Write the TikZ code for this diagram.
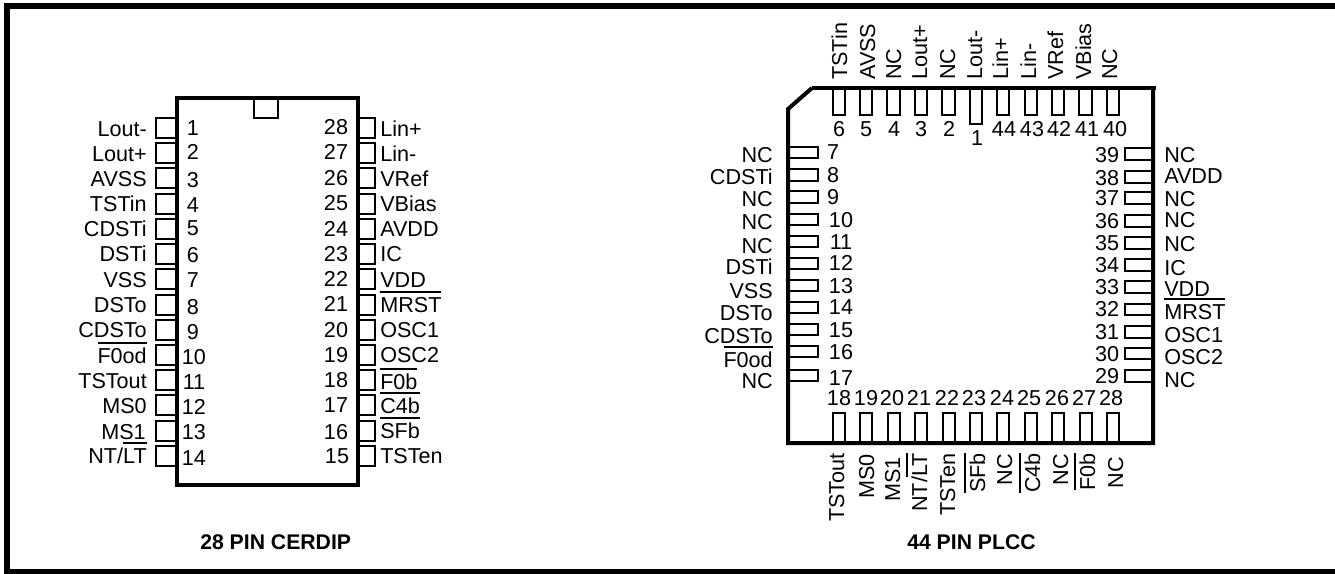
\documentclass[tikz,border=0pt]{standalone}
\usepackage{fontspec}
\setmainfont{Liberation Sans}
\usepackage{tikz}
\usetikzlibrary{positioning, calc}
\newcommand{\ovbar}[1]{\setbox0\hbox{#1}\rlap{\rule[14.6pt]{\wd0}{1.1pt}}\box0}

\begin{document}
\begin{tikzpicture}[x=.75pt,y=-.75pt]
	\tikzstyle{lead}=[rectangle,draw=black!100,line width=1.4pt,inner sep=0pt]
	\tikzstyle{dl-lead}=[lead,minimum width=15.75pt,minimum height=15pt]
	\tikzstyle{dr-lead}=[lead,minimum width=12.75pt,minimum height=15pt]
	\tikzstyle{pv-lead}=[lead,minimum width=9.5pt,minimum height=20.25pt]
	\tikzstyle{ps-lead}=[lead,minimum width=22pt,minimum height=8.5pt]
	\tikzstyle{num}=[inner sep=0pt]
	\tikzstyle{txt-r}=[inner sep=0pt,anchor=base east]
	\tikzstyle{txt-l}=[inner sep=0pt,anchor=base west]
	\tikzstyle{txt-up}=[inner sep=0pt,anchor=base west,rotate=90]
	\tikzstyle{txt-dn}=[inner sep=0pt,anchor=base east,rotate=90]
	\tikzstyle{title}=[inner sep=0pt,anchor=base west,font=\fontsize{15.9}{18}\selectfont\bfseries]
	\tikzstyle{body}=[draw=black!100,line width=3pt]

	\useasboundingbox (0,0) rectangle (1335,574);
	\fontsize{16.2}{18}\selectfont

	% frame, open on the right
	\draw[line width=4.5pt,draw=black!100] (1335,6) -- (7,6) -- (7,571.5) -- (1335,571.5);

	% 28 pin, left row
	\node[dl-lead] (dlead1) at (166.5,128) {};	\node[num] (dnum1) at (193,128) {1};	\node[txt-r] (dtxt1) at (147,137) {Lout-};
	\node[dl-lead] (dlead2) at (166.5,153) {};	\node[num] (dnum2) at (193,152) {2};	\node[txt-r] (dtxt2) at (147,162) {Lout+};
	\node[dl-lead] (dlead3) at (166.5,178) {};	\node[num] (dnum3) at (193,180) {3};	\node[txt-r] (dtxt3) at (147,187) {AVSS};
	\node[dl-lead] (dlead4) at (166.5,204) {};	\node[num] (dnum4) at (193,205) {4};	\node[txt-r] (dtxt4) at (147,212) {TSTin};
	\node[dl-lead] (dlead5) at (166.5,229) {};	\node[num] (dnum5) at (193,228) {5};	\node[txt-r] (dtxt5) at (147,237) {CDSTi};
	\node[dl-lead] (dlead6) at (166.5,254) {};	\node[num] (dnum6) at (193,255) {6};	\node[txt-r] (dtxt6) at (147,262) {DSTi};
	\node[dl-lead] (dlead7) at (166.5,279) {};	\node[num] (dnum7) at (193,280) {7};	\node[txt-r] (dtxt7) at (147,287) {VSS};
	\node[dl-lead] (dlead8) at (166.5,305) {};	\node[num] (dnum8) at (193,307) {8};	\node[txt-r] (dtxt8) at (147,312) {DSTo};
	\node[dl-lead] (dlead9) at (166.5,330) {};	\node[num] (dnum9) at (193,332) {9};	\node[txt-r] (dtxt9) at (147,337) {CDSTo};
	\node[dl-lead] (dlead10) at (166.5,355) {};	\node[num] (dnum10) at (194,357) {10};	\node[txt-r] (dtxt10) at (147,363) {\ovbar{F0od}};
	\node[dl-lead] (dlead11) at (166.5,380) {};	\node[num] (dnum11) at (194,382) {11};	\node[txt-r] (dtxt11) at (147,388) {TSTout};
	\node[dl-lead] (dlead12) at (166.5,405) {};	\node[num] (dnum12) at (194,407) {12};	\node[txt-r] (dtxt12) at (147,413) {MS0};
	\node[dl-lead] (dlead13) at (166.5,431) {};	\node[num] (dnum13) at (194,432) {13};	\node[txt-r] (dtxt13) at (146,439) {MS1};
	\node[dl-lead] (dlead14) at (166.5,456) {};	\node[num] (dnum14) at (194,458) {14};	\node[txt-r] (dtxt14) at (147,463) {NT/\ovbar{LT}};

	% 28 pin, right row
	\node[dr-lead] (dlead28) at (366.5,128) {};	\node[num] (dnum28) at (336,127) {28};	\node[txt-l] (dtxt28) at (380,137) {Lin+};
	\node[dr-lead] (dlead27) at (366.5,153) {};	\node[num] (dnum27) at (336,152) {27};	\node[txt-l] (dtxt27) at (380,162) {Lin-};
	\node[dr-lead] (dlead26) at (366.5,178) {};	\node[num] (dnum26) at (336,178) {26};	\node[txt-l] (dtxt26) at (380,187) {VRef};
	\node[dr-lead] (dlead25) at (366.5,204) {};	\node[num] (dnum25) at (336,203) {25};	\node[txt-l] (dtxt25) at (380,212) {VBias};
	\node[dr-lead] (dlead24) at (366.5,229) {};	\node[num] (dnum24) at (336,229) {24};	\node[txt-l] (dtxt24) at (380,237) {AVDD};
	\node[dr-lead] (dlead23) at (366.5,254) {};	\node[num] (dnum23) at (336,254) {23};	\node[txt-l] (dtxt23) at (380,262) {IC};
	\node[dr-lead] (dlead22) at (366.5,279) {};	\node[num] (dnum22) at (336,279) {22};	\node[txt-l] (dtxt22) at (380,287) {VDD};
	\node[dr-lead] (dlead21) at (366.5,305) {};	\node[num] (dnum21) at (336,304) {21};	\node[txt-l] (dtxt21) at (380,312) {\ovbar{MRST}};
	\node[dr-lead] (dlead20) at (366.5,330) {};	\node[num] (dnum20) at (336,330) {20};	\node[txt-l] (dtxt20) at (380,337) {OSC1};
	\node[dr-lead] (dlead19) at (366.5,355) {};	\node[num] (dnum19) at (336,355) {19};	\node[txt-l] (dtxt19) at (380,362) {OSC2};
	\node[dr-lead] (dlead18) at (366.5,380) {};	\node[num] (dnum18) at (336,380) {18};	\node[txt-l] (dtxt18) at (380,389) {\ovbar{F0b}};
	\node[dr-lead] (dlead17) at (366.5,405) {};	\node[num] (dnum17) at (336,405) {17};	\node[txt-l] (dtxt17) at (380,413) {\ovbar{C4b}};
	\node[dr-lead] (dlead16) at (366.5,431) {};	\node[num] (dnum16) at (336,432) {16};	\node[txt-l] (dtxt16) at (380,438) {\ovbar{SFb}};
	\node[dr-lead] (dlead15) at (366.5,456) {};	\node[num] (dnum15) at (337,456) {15};	\node[txt-l] (dtxt15) at (380,463) {TSTen};

	% 28 pin package
	\draw[body] (177,98) rectangle (358,485);
	\draw[draw=black!100,line width=2.2pt] (254,98) -- (254,118) -- (278,118) -- (278,98);
	\node[title] (dtitle) at (200,549) {28 PIN CERDIP};

	% 44 pin, top row
	\node[pv-lead] (plead6) at (839,101.5) {};	\node[num] (pnum6) at (839,129) {6};	\node[txt-up] (ptxt6) at (847,80) {TSTin};
	\node[pv-lead] (plead5) at (866,101.5) {};	\node[num] (pnum5) at (866,129) {5};	\node[txt-up] (ptxt5) at (875,80) {AVSS};
	\node[pv-lead] (plead4) at (893.5,101.5) {};	\node[num] (pnum4) at (894,129) {4};	\node[txt-up] (ptxt4) at (901,80) {NC};
	\node[pv-lead] (plead3) at (921,101.5) {};	\node[num] (pnum3) at (921,129) {3};	\node[txt-up] (ptxt3) at (927,80) {Lout+};
	\node[pv-lead] (plead2) at (948.5,101.5) {};	\node[num] (pnum2) at (949,129) {2};	\node[txt-up] (ptxt2) at (955,80) {NC};
	\node[pv-lead,minimum height=27pt] (plead1) at (976,106) {};	\node[num] (pnum1) at (977,138) {1};	\node[txt-up] (ptxt1) at (982,80) {Lout-};
	\node[pv-lead] (plead44) at (1003,101.5) {};	\node[num] (pnum44) at (1004,129) {44};	\node[txt-up] (ptxt44) at (1008,80) {Lin+};
	\node[pv-lead] (plead43) at (1031,101.5) {};	\node[num] (pnum43) at (1032,129) {43};	\node[txt-up] (ptxt43) at (1036,80) {Lin-};
	\node[pv-lead] (plead42) at (1058,101.5) {};	\node[num] (pnum42) at (1059,129) {42};	\node[txt-up] (ptxt42) at (1063,80) {VRef};
	\node[pv-lead] (plead41) at (1085.5,101.5) {};	\node[num] (pnum41) at (1087,129) {41};	\node[txt-up] (ptxt41) at (1091,80) {VBias};
	\node[pv-lead] (plead40) at (1113,101.5) {};	\node[num] (pnum40) at (1115,129) {40};	\node[txt-up] (ptxt40) at (1117,80) {NC};

	% 44 pin, left row
	\node[ps-lead] (plead7) at (803,152.5) {};	\node[num] (pnum7) at (833,152) {7};	\node[txt-r] (ptxt7) at (773,163) {NC};
	\node[ps-lead] (plead8) at (803,175) {};	\node[num] (pnum8) at (833,175) {8};	\node[txt-r] (ptxt8) at (773,185) {CDSTi};
	\node[ps-lead] (plead9) at (803,197) {};	\node[num] (pnum9) at (833,197) {9};	\node[txt-r] (ptxt9) at (773,207) {NC};
	\node[ps-lead] (plead10) at (803,219.5) {};	\node[num] (pnum10) at (841,220) {10};	\node[txt-r] (ptxt10) at (773,229) {NC};
	\node[ps-lead] (plead11) at (803,241.5) {};	\node[num] (pnum11) at (841,242) {11};	\node[txt-r] (ptxt11) at (773,253) {NC};
	\node[ps-lead] (plead12) at (803,263.5) {};	\node[num] (pnum12) at (841,263) {12};	\node[txt-r] (ptxt12) at (773,274) {DSTi};
	\node[ps-lead] (plead13) at (803,285.5) {};	\node[num] (pnum13) at (841,286) {13};	\node[txt-r] (ptxt13) at (773,298) {VSS};
	\node[ps-lead] (plead14) at (803,307.5) {};	\node[num] (pnum14) at (841,307) {14};	\node[txt-r] (ptxt14) at (773,320) {DSTo};
	\node[ps-lead] (plead15) at (803,329.5) {};	\node[num] (pnum15) at (841,330) {15};	\node[txt-r] (ptxt15) at (773,343) {CDSTo};
	\node[ps-lead] (plead16) at (803,351.5) {};	\node[num] (pnum16) at (841,352) {16};	\node[txt-r] (ptxt16) at (773,367) {\ovbar{F0od}};
	\node[ps-lead] (plead17) at (803,375.5) {};	\node[num] (pnum17) at (841,378) {17};	\node[txt-r] (ptxt17) at (773,388) {NC};

	% 44 pin, right row
	\node[ps-lead,minimum width=21pt] (plead39) at (1139,154) {};	\node[num] (pnum39) at (1107,155) {39};	\node[txt-l] (ptxt39) at (1164,163) {NC};
	\node[ps-lead,minimum width=21pt] (plead38) at (1139,177) {};	\node[num] (pnum38) at (1107,178) {38};	\node[txt-l] (ptxt38) at (1164,184) {AVDD};
	\node[ps-lead,minimum width=21pt] (plead37) at (1139,198) {};	\node[num] (pnum37) at (1107,198) {37};	\node[txt-l] (ptxt37) at (1164,206) {NC};
	\node[ps-lead,minimum width=21pt] (plead36) at (1139,221) {};	\node[num] (pnum36) at (1107,221) {36};	\node[txt-l] (ptxt36) at (1164,228) {NC};
	\node[ps-lead,minimum width=21pt] (plead35) at (1139,243) {};	\node[num] (pnum35) at (1107,243) {35};	\node[txt-l] (ptxt35) at (1164,252) {NC};
	\node[ps-lead,minimum width=21pt] (plead34) at (1139,265) {};	\node[num] (pnum34) at (1107,265) {34};	\node[txt-l] (ptxt34) at (1164,275) {IC};
	\node[ps-lead,minimum width=21pt] (plead33) at (1139,287) {};	\node[num] (pnum33) at (1107,287) {33};	\node[txt-l] (ptxt33) at (1164,296) {VDD};
	\node[ps-lead,minimum width=21pt] (plead32) at (1139,309.5) {};	\node[num] (pnum32) at (1107,309) {32};	\node[txt-l] (ptxt32) at (1164,319) {\ovbar{MRST}};
	\node[ps-lead,minimum width=21pt] (plead31) at (1139,332) {};	\node[num] (pnum31) at (1107,332) {31};	\node[txt-l] (ptxt31) at (1164,342) {OSC1};
	\node[ps-lead,minimum width=21pt] (plead30) at (1139,353.5) {};	\node[num] (pnum30) at (1107,354) {30};	\node[txt-l] (ptxt30) at (1164,364) {OSC2};
	\node[ps-lead,minimum width=21pt] (plead29) at (1139,376) {};	\node[num] (pnum29) at (1107,376) {29};	\node[txt-l] (ptxt29) at (1164,387) {NC};

	% 44 pin, bottom row
	\node[pv-lead,minimum height=22.5pt] (plead18) at (839,428) {};	\node[num] (pnum18) at (839,398) {18};	\node[txt-dn] (ptxt18) at (844,453) {TSTout};
	\node[pv-lead,minimum height=22.5pt] (plead19) at (866,428) {};	\node[num] (pnum19) at (866,398) {19};	\node[txt-dn] (ptxt19) at (874,454) {MS0};
	\node[pv-lead,minimum height=22.5pt] (plead20) at (894,428) {};	\node[num] (pnum20) at (892,398) {20};	\node[txt-dn] (ptxt20) at (900,457) {MS1};
	\node[pv-lead,minimum height=22.5pt] (plead21) at (921,428) {};	\node[num] (pnum21) at (919,398) {21};	\node[txt-dn] (ptxt21) at (927,453) {NT/\ovbar{LT}};
	\node[pv-lead,minimum height=22.5pt] (plead22) at (949,428) {};	\node[num] (pnum22) at (947,398) {22};	\node[txt-dn] (ptxt22) at (955,453) {TSTen};
	\node[pv-lead,minimum height=22.5pt] (plead23) at (976,428) {};	\node[num] (pnum23) at (974,398) {23};	\node[txt-dn] (ptxt23) at (985,453) {\ovbar{SFb}};
	\node[pv-lead,minimum height=22.5pt] (plead24) at (1003,428) {};	\node[num] (pnum24) at (1002,398) {24};	\node[txt-dn] (ptxt24) at (1012,454) {NC};
	\node[pv-lead,minimum height=22.5pt] (plead25) at (1031,428) {};	\node[num] (pnum25) at (1029,398) {25};	\node[txt-dn] (ptxt25) at (1040,453) {\ovbar{C4b}};
	\node[pv-lead,minimum height=22.5pt] (plead26) at (1058,428) {};	\node[num] (pnum26) at (1057,398) {26};	\node[txt-dn] (ptxt26) at (1068,454) {NC};
	\node[pv-lead,minimum height=22.5pt] (plead27) at (1086,428) {};	\node[num] (pnum27) at (1084,398) {27};	\node[txt-dn] (ptxt27) at (1095,453) {\ovbar{F0b}};
	\node[pv-lead,minimum height=22.5pt] (plead28) at (1113,428) {};	\node[num] (pnum28) at (1111,398) {28};	\node[txt-dn] (ptxt28) at (1123,457) {NC};

	% 44 pin package
	\draw[body,line join=miter] (812,88) -- (1156,88);
	\draw[body] (1153,88) -- (1153,443) -- (788,443) -- (788,109) -- (812,88);
	\node[title] (ptitle) at (907,549) {44 PIN PLCC};
\end{tikzpicture}
\end{document}
